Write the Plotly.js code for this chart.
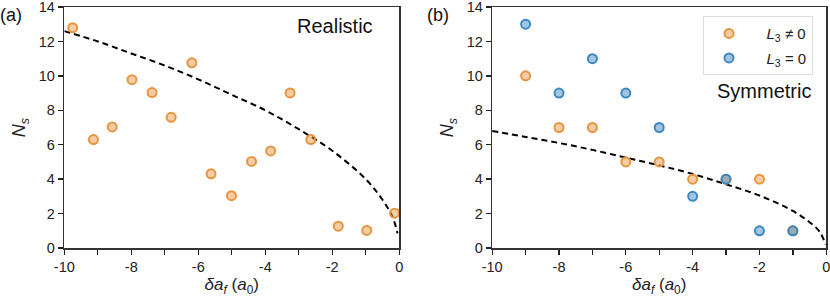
<!DOCTYPE html>
<html>
<head>
<meta charset="utf-8">
<script src="https://cdn.plot.ly/plotly-3.0.1.min.js"></script>
<style>html,body{margin:0;padding:0;background:#fff;}#chart{width:830px;height:300px;}</style>
</head>
<body>
<div id="chart"></div>
<script>
// Panel (a): Realistic
const realX = [-9.75, -9.13, -8.57, -7.98, -7.38, -6.81, -6.19, -5.62, -5.01, -4.41, -3.84, -3.26, -2.64, -1.82, -0.97, -0.14];
const realY = [12.8, 6.3, 7.03, 9.78, 9.03, 7.59, 10.76, 4.31, 3.04, 5.03, 5.64, 9.01, 6.30, 1.27, 1.02, 2.02];
const curveAX = [-10, -9, -8, -7, -6, -5, -4, -3, -2, -1, -0.5, -0.2, -0.05];
const curveAY = [12.6, 12.0, 11.3, 10.6, 9.8, 8.9, 8.0, 6.9, 5.65, 4.0, 2.8, 1.8, 0.85];

// Panel (b): Symmetric
const symOrangeX = [-9, -8, -7, -6, -5, -4, -3, -2, -1];
const symOrangeY = [10, 7, 7, 5, 5, 4, 4, 4, 1];
const symBlueX = [-9, -8, -7, -6, -5, -4, -3, -2, -1];
const symBlueY = [13, 9, 11, 9, 7, 3, 4, 1, 1];
const curveBX = [-10, -9, -8, -7, -6, -5, -4, -3, -2, -1, -0.5, -0.2, -0.02];
const curveBY = [6.8, 6.45, 6.1, 5.7, 5.25, 4.8, 4.3, 3.7, 3.05, 2.15, 1.5, 0.95, 0.2];

const xTickVals = [-10, -8, -6, -4, -2, 0];
const xTickText = ['-10', '-8', '-6', '-4', '-2', '0'];
const yTickVals = [0, 2, 4, 6, 8, 10, 12, 14];

const orangeEdge = '#e8953f', orangeFill = 'rgba(232,149,63,0.47)';
const blueEdge = '#3c88c2', blueFill = 'rgba(60,136,194,0.48)';
const FONT = 'Liberation Sans, Arial, sans-serif';

const mk = (fill, edge) => ({size: 9, color: fill, line: {color: edge, width: 2}});
const dashLine = {color: '#000', width: 2, dash: '6px,4px', shape: 'spline'};

const traces = [
  {x: curveAX, y: curveAY, mode: 'lines', line: dashLine, xaxis: 'x', yaxis: 'y', showlegend: false, hoverinfo: 'skip'},
  {x: realX, y: realY, mode: 'markers', marker: mk(orangeFill, orangeEdge), xaxis: 'x', yaxis: 'y', showlegend: false, cliponaxis: false},
  {x: curveBX, y: curveBY, mode: 'lines', line: dashLine, xaxis: 'x2', yaxis: 'y2', showlegend: false, hoverinfo: 'skip'},
  {x: symOrangeX, y: symOrangeY, mode: 'markers', marker: mk(orangeFill, orangeEdge), xaxis: 'x2', yaxis: 'y2', legendgroup: 'o',
   name: '&nbsp;&nbsp;&nbsp;<i>L</i><sub>3</sub> ≠ 0', cliponaxis: false},
  {x: symBlueX, y: symBlueY, mode: 'markers', marker: mk(blueFill, blueEdge), xaxis: 'x2', yaxis: 'y2', legendgroup: 'b',
   name: '&nbsp;&nbsp;&nbsp;<i>L</i><sub>3</sub> = 0', cliponaxis: false}
];

const xax = (dom, anchor) => ({
  domain: dom, anchor: anchor, range: [-10, 0], tickvals: xTickVals, ticktext: xTickText,
  ticks: 'outside', ticklen: 5, tickwidth: 1.3, tickcolor: '#222', ticklabeloverflow: 'allow',
  minor: {ticks: 'outside', dtick: 1, tick0: 0, ticklen: 5, tickwidth: 1.3, tickcolor: '#222'},
  showline: true, linecolor: '#333', linewidth: 1.5, mirror: true, showgrid: false, zeroline: false,
  tickfont: {size: 14.5, color: '#222', family: FONT},
  title: {text: '<i>δa<sub>f</sub></i> (<i>a</i><sub>0</sub>)', font: {size: 17, color: '#222', family: FONT}, standoff: 4}
});
const yax = (anchor) => ({
  domain: [0, 1], anchor: anchor, range: [0, 14], tickvals: yTickVals,
  ticks: 'outside', ticklen: 5, tickwidth: 1.3, tickcolor: '#222', ticklabeloverflow: 'allow',
  showline: true, linecolor: '#333', linewidth: 1.5, mirror: true, showgrid: false, zeroline: false,
  tickfont: {size: 14.5, color: '#222', family: FONT},
  title: {text: '<i>N<sub>s</sub></i>', font: {size: 18, color: '#222', family: FONT}, standoff: 8}
});

const layout = {
  width: 830, height: 300,
  margin: {l: 0, r: 0, t: 7, b: 52},
  paper_bgcolor: '#fff', plot_bgcolor: '#fff',
  font: {family: FONT, color: '#222'},
  xaxis: xax([0.0775, 0.481], 'y'),
  yaxis: yax('x'),
  xaxis2: xax([0.593, 0.9955], 'y2'),
  yaxis2: yax('x2'),
  showlegend: true,
  legend: {x: 0.847, y: 0.962, xanchor: 'left', yanchor: 'top', bgcolor: 'rgba(255,255,255,0.9)',
           bordercolor: '#ddd', borderwidth: 1, font: {size: 15, family: FONT, color: '#222'},
           itemwidth: 40, traceorder: 'grouped', tracegroupgap: 2},
  annotations: [
    {text: 'Realistic', xref: 'paper', yref: 'paper', x: 0.452, y: 0.922, xanchor: 'right', yanchor: 'middle', showarrow: false, font: {size: 20, family: FONT, color: '#111'}},
    {text: 'Symmetric', xref: 'paper', yref: 'paper', x: 0.979, y: 0.65, xanchor: 'right', yanchor: 'middle', showarrow: false, font: {size: 20, family: FONT, color: '#111'}},
    {text: '(a)', xref: 'paper', yref: 'paper', x: -0.002, y: 0.967, xanchor: 'left', yanchor: 'middle', showarrow: false, font: {size: 18, family: FONT, color: '#111'}},
    {text: '(b)', xref: 'paper', yref: 'paper', x: 0.512, y: 0.967, xanchor: 'left', yanchor: 'middle', showarrow: false, font: {size: 18, family: FONT, color: '#111'}}
  ]
};

Plotly.newPlot('chart', traces, layout, {staticPlot: true, displayModeBar: false});
</script>
</body>
</html>
